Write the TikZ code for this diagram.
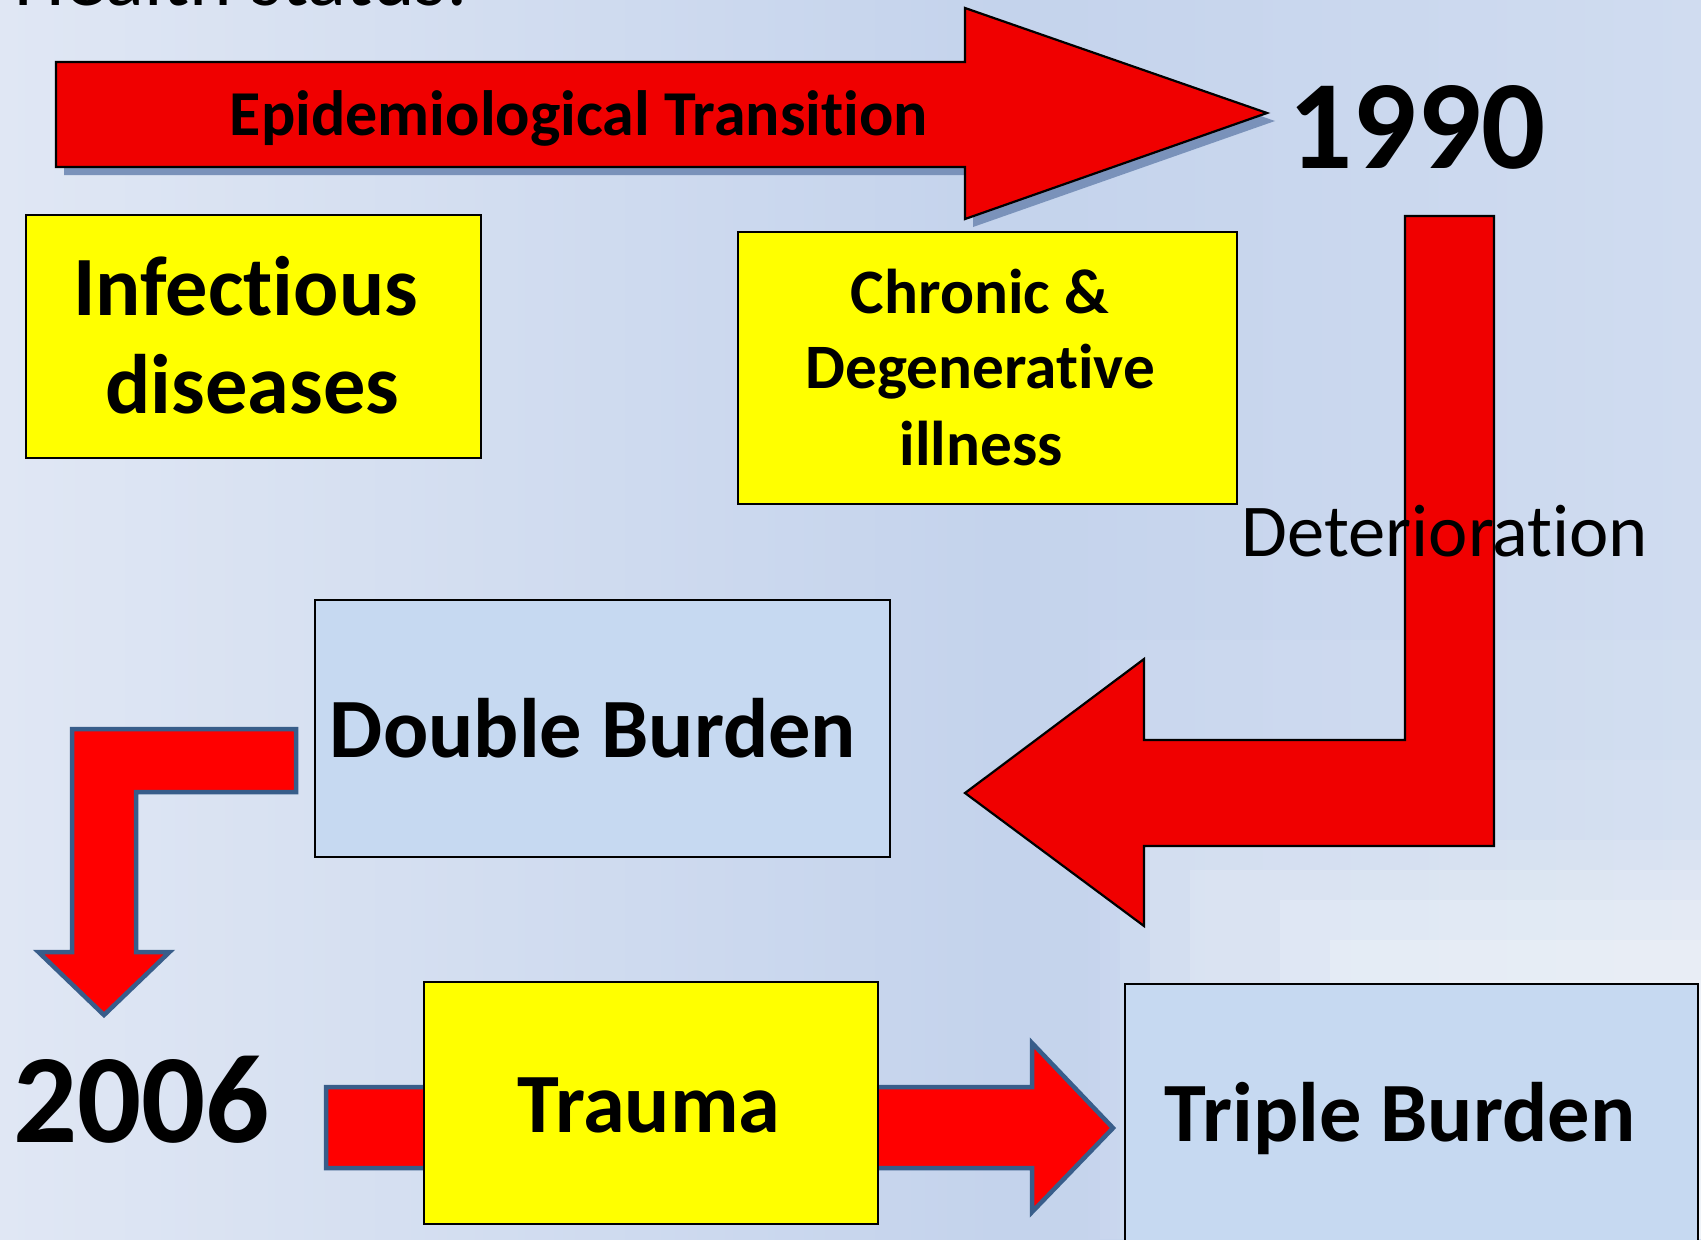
\documentclass[tikz,border=0pt]{standalone}
\usepackage{fontspec}
\setmainfont{Carlito}[Ligatures={NoCommon}]
\definecolor{arrowred}{RGB}{240,0,0}
\definecolor{brightred}{RGB}{255,0,0}
\definecolor{outlineblue}{RGB}{56,93,138}
\definecolor{shadowblue}{RGB}{122,146,186}
\definecolor{boxyellow}{RGB}{255,255,0}
\definecolor{boxblue}{RGB}{198,217,241}
\definecolor{bgleft}{RGB}{224,231,244}
\definecolor{bgmid}{RGB}{196,211,236}
\definecolor{bgright}{RGB}{208,220,240}
\begin{document}
\begin{tikzpicture}[x=0.01cm,y=-0.01cm,
  box/.style={draw=black, line width=0.022cm, inner sep=0pt},
  yellowbox/.style={box, fill=boxyellow},
  bluebox/.style={box, fill=boxblue},
  redarrow/.style={fill=arrowred, draw=black, line width=0.022cm, line join=miter},
  bluearrow/.style={fill=brightred, draw=outlineblue, line width=0.045cm, line join=miter},
  txtbase/.style={inner sep=0pt, anchor=base, text=black},
  hugetxt/.style={txtbase, font=\bfseries\fontsize{36}{40}\selectfont},
  bigtxt/.style={txtbase, font=\bfseries\fontsize{24}{28}\selectfont},
  midtxt/.style={txtbase, font=\bfseries\fontsize{18}{22}\selectfont},
  plaintxt/.style={txtbase, font=\fontsize{21.2}{25}\selectfont},
  glow/.style={fill=white, fill opacity=#1, draw=none}
]
\useasboundingbox (0,0) rectangle (1701,1239);
\clip (0,0) rectangle (1701,1239);
% background
\shade[left color=bgleft, right color=bgmid] (0,0) rectangle (1000,1239);
\shade[left color=bgmid, right color=bgright] (1000,0) rectangle (1701,1239);
\fill[glow=0.06] (1100,640) rectangle (1701,1239);
\fill[glow=0.08] (1120,760) rectangle (1701,1239);
\fill[glow=0.12] (1150,840) rectangle (1701,1239);
\fill[glow=0.14] (1190,870) rectangle (1701,1239);
\fill[glow=0.16] (1280,900) rectangle (1701,1239);
\fill[glow=0.18] (1330,940) rectangle (1701,1239);
\fill[glow=0.2] (1390,980) rectangle (1701,1239);
\fill[glow=0.2] (1480,1040) rectangle (1701,1239);

% cut-off title
\node[txtbase, anchor=base west, font=\fontsize{23}{27}\selectfont] (title) at (14,5) {Health status:};

% top arrow with shadow
\fill[shadowblue] (64,70) -- (973,70) -- (973,16) -- (1275,121) -- (973,227) -- (973,175) -- (64,175) -- cycle;
\draw[redarrow] (56,62) -- (965,62) -- (965,8) -- (1267,113) -- (965,219) -- (965,167) -- (56,167) -- cycle;
\node[midtxt, font=\bfseries\fontsize{18.2}{22}\selectfont] (epi) at (579,135) {Epidemiological Transition};
\node[hugetxt] (y1990) at (1417,168) {1990};

% infectious box
\node[yellowbox, minimum width=4.55cm, minimum height=2.43cm] (inf) at (253.5,336.5) {};
\node[bigtxt] (inf1) at (245.5,315) {Infectious};
\node[bigtxt] (inf2) at (252.5,413) {diseases};

% chronic box
\node[yellowbox, minimum width=4.99cm, minimum height=2.72cm] (chr) at (987.5,368) {};
\node[midtxt] (chr1) at (980,313) {Chronic \&};
\node[midtxt] (chr2) at (980.5,388) {Degenerative};
\node[midtxt] (chr3) at (981,465) {illness};

% bent arrow 1990 -> double burden
\draw[redarrow] (1405,216) -- (1494,216) -- (1494,846) -- (1144,846) -- (1144,926) -- (965,793) -- (1144,659) -- (1144,740) -- (1405,740) -- cycle;
\node[plaintxt, anchor=base west] (det) at (1241,556) {Deterioration};

% double burden
\node[bluebox, minimum width=5.75cm, minimum height=2.57cm] (dbl) at (602.5,728.5) {};
\node[bigtxt] (dbltxt) at (593,757) {Double Burden};

% bent arrow double burden -> 2006
\draw[bluearrow] (72,729) -- (296,729) -- (296,792) -- (136,792) -- (136,952) -- (169.5,952) -- (104,1015) -- (38.5,952) -- (72,952) -- cycle;
\node[hugetxt] (y2006) at (141.5,1142) {2006};

% trauma arrow and box
\draw[bluearrow] (326,1087) -- (1032,1087) -- (1032,1043) -- (1113,1128) -- (1032,1212) -- (1032,1168) -- (326,1168) -- cycle;
\node[yellowbox, minimum width=4.54cm, minimum height=2.42cm] (trauma) at (651,1103) {};
\node[bigtxt] (traumatxt) at (649,1132) {Trauma};

% triple burden
\node[bluebox, minimum width=5.73cm, minimum height=2.66cm] (triple) at (1411.5,1117) {};
\node[bigtxt] (tripletxt) at (1400,1141) {Triple Burden};
\end{tikzpicture}
\end{document}
